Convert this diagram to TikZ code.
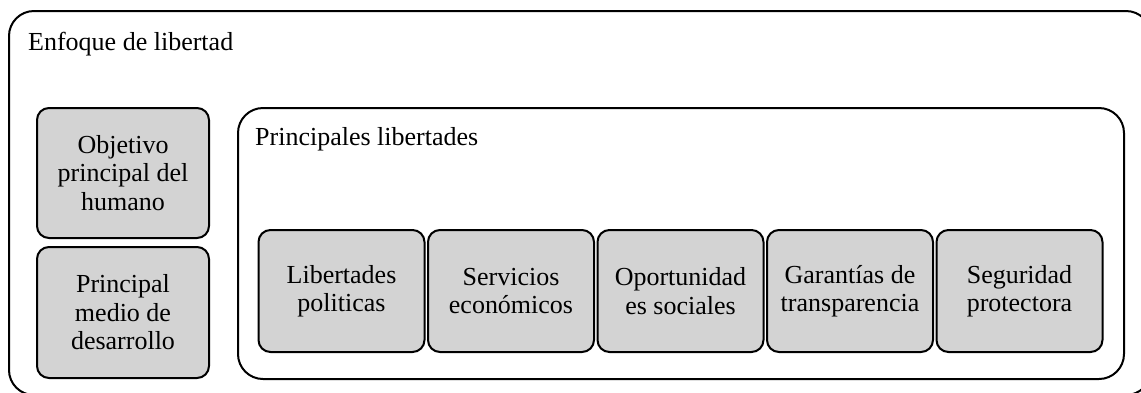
\documentclass[tikz,border=0pt]{standalone}
\usepackage{fontspec}
\setmainfont{Liberation Serif}
\definecolor{boxgray}{HTML}{D3D3D3}
\begin{document}
\begin{tikzpicture}[x=1pt,y=-1pt,
  frame/.style={draw=black,line width=2pt,fill=white,rounded corners=25pt,inner sep=0pt,anchor=north west},
  gbox/.style={draw=black,line width=2pt,fill=boxgray,rounded corners=12pt,align=center,inner sep=0pt,
    font=\fontsize{26}{28.5}\selectfont},
  title/.style={anchor=base west,inner sep=0pt,font=\fontsize{26}{28.5}\selectfont}]
\useasboundingbox (0,0) rectangle (1141,392);
\begin{scope}
\clip (0,0) rectangle (1141,392);
\node[frame,minimum width=1142pt,minimum height=384pt] (outer) at (8,10) {};
\end{scope}
\node[title] (t1) at (28,50) {Enfoque de libertad};
\node[frame,minimum width=886pt,minimum height=271pt] (inner) at (237,107) {};
\node[title] (t2) at (255,145) {Principales libertades};
\node[gbox,minimum width=172pt,minimum height=130pt] (obj) at (123,173) {Objetivo\\principal del\\humano};
\node[gbox,minimum width=172pt,minimum height=131pt] (med) at (123,312.5) {Principal\\medio de\\desarrollo};
\node[gbox,minimum width=166pt,minimum height=122pt] (b1) at (341.5,291) {Libertades\\politicas};
\node[gbox,minimum width=166pt,minimum height=122pt] (b2) at (511,291) {Servicios\\económicos};
\node[gbox,minimum width=166pt,minimum height=122pt] (b3) at (680.5,291) {Oportunidad\\es sociales};
\node[gbox,minimum width=166pt,minimum height=122pt] (b4) at (850,291) {Garantías de\\transparencia};
\node[gbox,minimum width=166pt,minimum height=122pt] (b5) at (1019.5,291) {Seguridad\\protectora};
\end{tikzpicture}
\end{document}
